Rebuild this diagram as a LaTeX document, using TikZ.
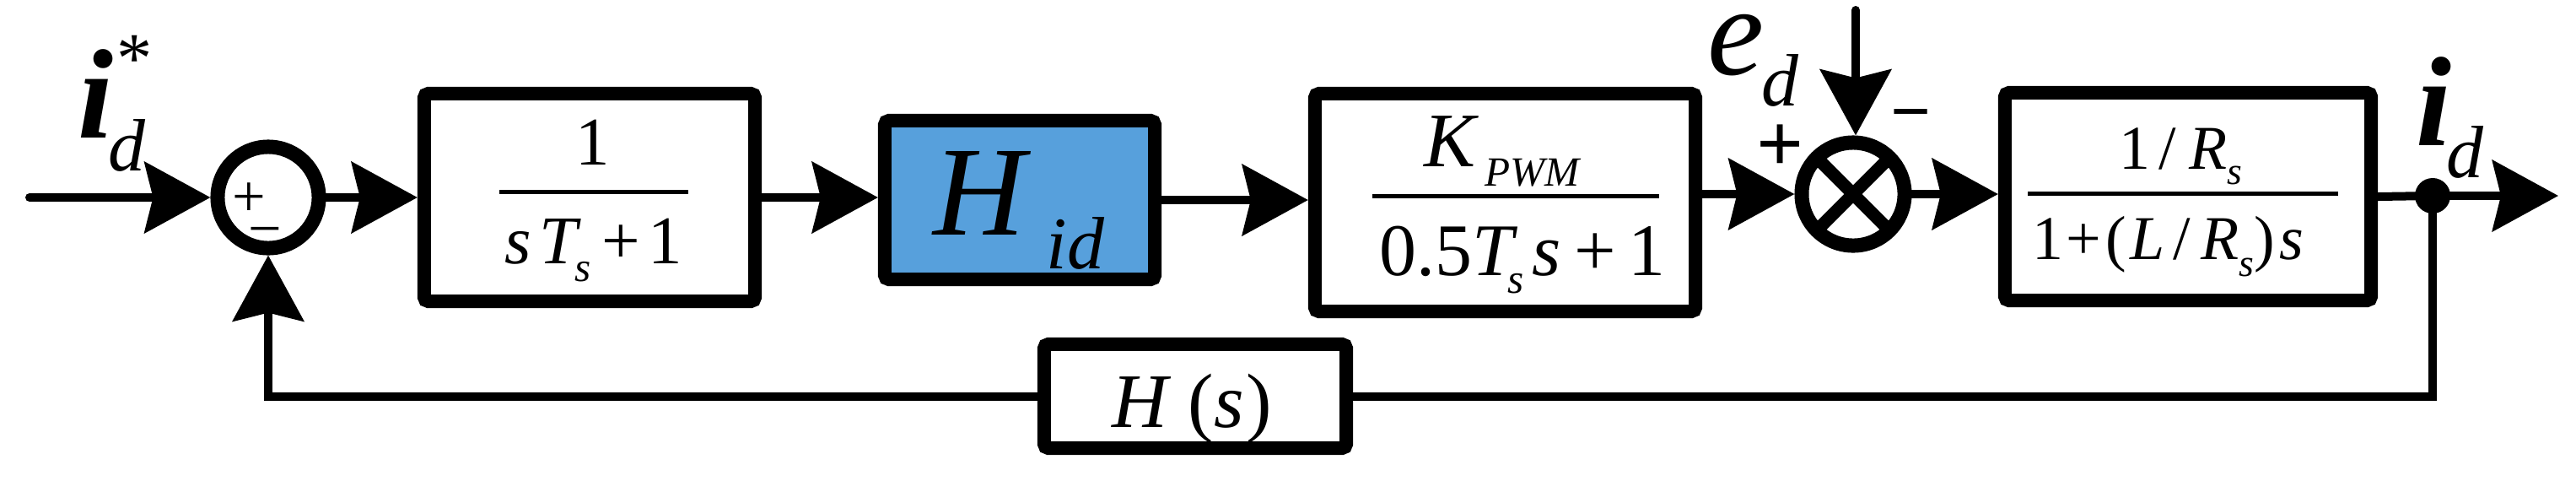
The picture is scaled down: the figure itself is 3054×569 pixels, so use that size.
\documentclass[tikz,border=0pt]{standalone}
\usepackage{fontspec}
\usepackage{graphicx}
\setmainfont{Liberation Serif}
\usetikzlibrary{arrows.meta}
\definecolor{hidblue}{RGB}{87,160,220}
\newcommand{\fsz}[1]{\fontsize{#1}{#1}\selectfont}
\begin{document}
\begin{tikzpicture}[x=0.01cm,y=-0.01cm,
  conn/.style={line width=0.1cm, line cap=round, -{Stealth[length=0.78cm,width=0.84cm,inset=0.1cm]}},
  plain/.style={line width=0.1cm, line cap=round},
  blk/.style={draw, line width=0.16cm, rounded corners=0.05cm, inner sep=0},
  sumj/.style={draw, circle, line width=0.17cm, inner sep=0},
  txt/.style={inner sep=0, anchor=base west},
  fbar/.style={line width=0.05cm},
]
\useasboundingbox (0,0) rectangle (3054,569);

% blocks
\node[blk, minimum width=3.92cm, minimum height=2.46cm] (b1) at (699,234) {};
\node[blk, fill=hidblue, minimum width=3.20cm, minimum height=1.88cm] (hid) at (1209,237) {};
\node[blk, minimum width=4.51cm, minimum height=2.58cm] (kp) at (1784.5,240) {};
\node[blk, minimum width=4.34cm, minimum height=2.46cm] (b4) at (2594,233) {};

% H(s) text first, box border on top
\node[txt, font={\fsz{26}}] (hstxt) at (1318,506) {\textit{H}\hspace{0.2cm}(\textit{s}\hspace{0.03cm})};
\node[blk, minimum width=3.58cm, minimum height=1.23cm] (hs) at (1417,469.5) {};

% summing junctions
\node[sumj, minimum size=1.2cm] (sum1) at (318,234) {};
\node[sumj, minimum size=1.22cm,
  path picture={\draw[line width=0.15cm] (path picture bounding box.north west) -- (path picture bounding box.south east)
                (path picture bounding box.north east) -- (path picture bounding box.south west);}] (sum2) at (2197,230) {};
\node[circle, fill=black, minimum size=0.42cm, inner sep=0] (dot) at (2884,232) {};

% signs
\node[inner sep=0, anchor=base, font={\fsz{20}}] (p1) at (295,256) {+};
\node[inner sep=0, anchor=base, font={\fsz{20}}] (m1) at (314,294) {−};
\node[inner sep=0, anchor=base, font={\fsz{28}\bfseries}] (p2) at (2111,203) {+};
\node[inner sep=0, anchor=base, font={\fsz{24}\bfseries}] (m2) at (2266,160) {−};

% signal labels
\node[txt, font={\fsz{43}\bfseries\itshape}] (iref) at (92,163) {i};
\node[txt, font={\fsz{25}\itshape}] (irefd) at (128,202) {d};
\node[txt, font={\fsz{24}}] (irefs) at (138,97) {*};
\node[txt, font={\fsz{43}\itshape}] (ed) at (2024,88) {e};
\node[txt, font={\fsz{25}\itshape}] (edd) at (2088,125) {d};
\node[txt, font={\fsz{43}\bfseries\itshape}] (iout) at (2864,172) {i};
\node[txt, font={\fsz{25}\itshape}] (ioutd) at (2900,210) {d};

% block 1 content
\node[inner sep=0, anchor=base, font={\fsz{23}}] (b1n) at (703,195) {1};
\draw[fbar] (592,227) -- (816,227);
\node[txt, font={\fsz{23}}] (b1d) at (598,312) {\textit{s}\hspace{0.09cm}\textit{T}\hspace{-0.07cm}\raisebox{-0.21cm}{\fsz{14}\textit{s}}\hspace{0.12cm}+\hspace{0.1cm}1};

% Hid content
\node[txt, font={\fsz{43}\itshape}] (hidH) at (1106,278) {H};
\node[txt, font={\fsz{25}\itshape}] (hidsub) at (1240,318) {id};

% KPWM content
\node[txt, font={\fsz{26}\itshape}] (kK) at (1688,197) {K};
\node[txt, font={\fsz{14}\itshape}] (kP) at (1760,220) {PWM};
\draw[fbar] (1627,232) -- (1967,232);
\node[txt, font={\fsz{25}}] (kd) at (1635,326) {0.5\textit{T}\hspace{-0.12cm}\raisebox{-0.21cm}{\fsz{14}\textit{s}}\hspace{0.1cm}\textit{s}\hspace{0.15cm}+\hspace{0.15cm}1};

% plant content
\node[txt, font={\fsz{21}}] (b4n) at (2512,200) {1\hspace{0.1cm}/\hspace{0.15cm}\textit{R}\raisebox{-0.18cm}{\fsz{13}\textit{s}}};
\draw[fbar] (2404,229) -- (2772,229);
\node[txt, font={\fsz{21}}] (b4d) at (2409,307) {1\hspace{0.03cm}+\hspace{0.05cm}(\hspace{0.05cm}\textit{L}\hspace{0.1cm}/\hspace{0.12cm}\textit{R}\raisebox{-0.2cm}{\fsz{13}\textit{s}})\hspace{0.05cm}\textit{s}};

% connectors
\coordinate (in) at (35,234);
\coordinate (out) at (3033,232);
\coordinate (dist) at (2200,12);
\draw[conn] (in) -- (sum1.west);
\draw[conn] (sum1.east) -- (sum1.east -| b1.west);
\draw[conn] (b1.east) -- (b1.east -| hid.west);
\draw[conn] (hid.east) -- (hid.east -| kp.west);
\draw[conn] (kp.east |- sum2.west) -- (sum2.west);
\draw[conn] (dist) -- (dist |- sum2.north);
\draw[conn] (sum2.east) -- (sum2.east -| b4.west);
\draw[plain] (b4.east) -- (dot.center);
\draw[conn] (dot.center) -- (out);
\draw[plain] (dot.center) |- (hs.east);
\draw[conn] (hs.west) -| (sum1.south);
\end{tikzpicture}
\end{document}
